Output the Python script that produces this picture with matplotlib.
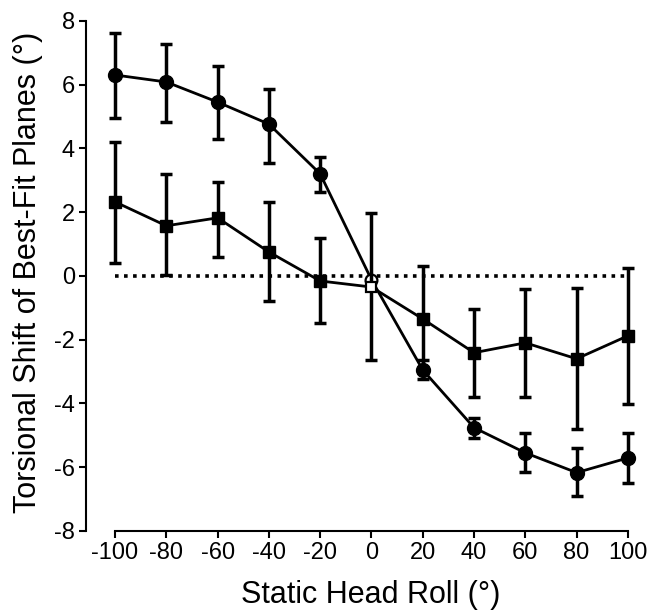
import matplotlib
matplotlib.use("Agg")
import matplotlib.pyplot as plt
import numpy as np

plt.rcParams['font.family'] = ['Liberation Sans', 'DejaVu Sans']
plt.rcParams['axes.unicode_minus'] = False

roll = [-100, -80, -60, -40, -20, 0, 20, 40, 60, 80, 100]

# circles (filled)
circ_y = [6.30, 6.08, 5.45, 4.76, 3.20, -0.12, -2.95, -4.76, -5.55, -6.17, -5.71]
circ_lo = [4.95, 4.83, 4.29, 3.54, 2.63, -0.12, -3.25, -5.08, -6.14, -6.90, -6.49]
circ_hi = [7.62, 7.27, 6.58, 5.86, 3.73, -0.12, -2.65, -4.45, -4.92, -5.39, -4.92]

# squares (filled)
sq_y = [2.32, 1.57, 1.82, 0.75, -0.16, -0.35, -1.35, -2.41, -2.10, -2.60, -1.88]
sq_lo = [0.41, 0.03, 0.60, -0.78, -1.47, -2.63, -3.00, -3.79, -3.79, -4.80, -4.01]
sq_hi = [4.20, 3.20, 2.95, 2.32, 1.19, 1.97, 0.31, -1.03, -0.41, -0.38, 0.25]

fig = plt.figure(figsize=(6.52, 6.11), dpi=100)
ax = fig.add_axes([0.132, 0.131, 0.831, 0.835])

# zero reference line
ax.plot([-100, 100], [0, 0], color='black', lw=2.6, ls=(0, (1, 1.5)), zorder=1)

def series(x, y, lo, hi, marker, ms, z):
    x = np.array(x); y = np.array(y)
    err = [y - np.array(lo), np.array(hi) - y]
    ax.errorbar(x, y, yerr=err, fmt='none', ecolor='black', elinewidth=2.5,
                capsize=4, capthick=2.5, zorder=z, clip_on=False)
    ax.plot(x, y, color='black', lw=2, zorder=z + 1, clip_on=False)
    mask = x != 0
    ax.plot(x[mask], y[mask], ls='none', marker=marker, ms=ms, mfc='black',
            mec='black', zorder=z + 2, clip_on=False)
    ax.plot(x[~mask], y[~mask], ls='none', marker=marker, ms=ms - 1.5, mfc='white',
            mec='black', mew=1.6, zorder=z + 2, clip_on=False)

series(roll, circ_y, circ_lo, circ_hi, 'o', 10, 3)
series(roll, sq_y, sq_lo, sq_hi, 's', 8.5, 6)

ax.set_xlim(-111.3, 100)
ax.set_ylim(-8, 8)
ax.set_xticks(roll)
ax.set_yticks(np.arange(-8, 9, 2))

for s in ['top', 'right']:
    ax.spines[s].set_visible(False)
ax.spines['left'].set_linewidth(1.5)
ax.spines['bottom'].set_linewidth(1.5)
ax.spines['bottom'].set_bounds(-100, 100)
ax.tick_params(width=1.5, length=5, labelsize=17, colors='black')
ax.tick_params(axis='x', pad=3)
ax.tick_params(axis='y', pad=3)

ax.set_ylabel('Torsional Shift of Best-Fit Planes (°)', fontsize=22)
ax.set_xlabel('Static Head Roll (°)', fontsize=22)
ax.yaxis.set_label_coords(-0.108, 0.506)
ax.xaxis.label.set_va('center')
ax.yaxis.label.set_va('center')
ax.xaxis.set_label_coords(0.526, -0.125)

fig.savefig('out.png', dpi=100)
